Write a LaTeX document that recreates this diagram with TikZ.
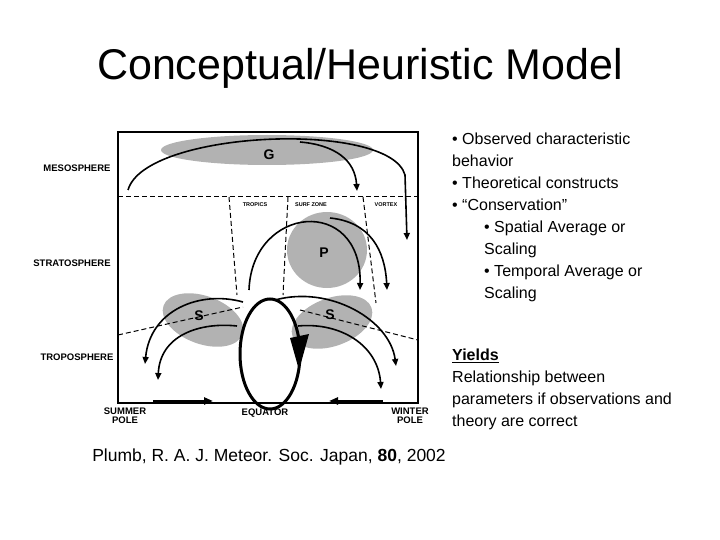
\documentclass[tikz,border=0pt]{standalone}
\usepackage{fontspec}
\setmainfont{Liberation Sans}
\usetikzlibrary{arrows.meta}
\begin{document}
\begin{tikzpicture}[x=1pt,y=-1pt,
  blob/.style={fill=black!30,draw=none},
  arr/.style={line width=1.6pt,-{Triangle[length=7pt,width=6pt]}},
  dline/.style={line width=1pt,dash pattern=on 5pt off 3pt},
  lab/.style={font=\fontsize{9.5}{9}\selectfont\bfseries,align=center,inner sep=0pt},
  tiny/.style={font=\fontsize{5.5}{6}\selectfont\bfseries,inner sep=0pt},
  body/.style={font=\fontsize{16}{22}\selectfont,anchor=north west,align=left,inner sep=0pt}]
\useasboundingbox (0,0) rectangle (720,540);
\node (title) at (360,68) {\fontsize{43}{45}\selectfont Conceptual/Heuristic Model};
% blobs
\fill[blob] (267,150) ellipse[x radius=106,y radius=15];
\fill[blob] (327,250) ellipse[x radius=40,y radius=38];
\fill[blob,rotate around={-20:(203,320)}] (203,320) ellipse[x radius=42,y radius=24];
\fill[blob,rotate around={20:(332,322)}] (332,322) ellipse[x radius=42,y radius=24];
\node (G) at (269,155) {\fontsize{14}{14}\selectfont\bfseries G};
\node (P) at (324,253) {\fontsize{14}{14}\selectfont\bfseries P};
\node (S1) at (199,316) {\fontsize{14}{14}\selectfont\bfseries S};
\node (S2) at (330,315) {\fontsize{14}{14}\selectfont\bfseries S};
% box
\draw[line width=1.3pt] (118,132) rectangle (418,403);
% dashed lines
\draw[dline] (118,197) -- (418,197);
\draw[dline] (118,335) -- (243,307);
\draw[dline] (300,310) -- (418,340);
\draw[dline] (229,197) -- (237,295);
\draw[dline] (288,197) -- (283,295);
\draw[dline] (363,197) -- (376,303);
\node[tiny] (tr) at (255,205) {TROPICS};
\node[tiny] (sz) at (311,205) {SURF ZONE};
\node[tiny] (vo) at (386,205) {VORTEX};
% G arrows
\coordinate (g0) at (128,190); \coordinate (g1) at (407,240); \coordinate (g2) at (357,191);
\draw[arr] (g0) .. controls (145,130) and (390,120) .. (405,175) -- (g1);
\draw[arr] (300,142) .. controls (335,145) and (355,160) .. (g2);
% P arrows
\coordinate (p0) at (249,290); \coordinate (p1) at (360,290); \coordinate (p2) at (387,290);
\draw[arr] (p0) .. controls (252,205) and (362,195) .. (p1);
\draw[arr] (330,218) .. controls (370,222) and (385,250) .. (p2);
% S arrows
\coordinate (s0) at (243,302); \coordinate (s1) at (145,364);
\draw[arr] (s0) .. controls (200,290) and (150,310) .. (s1);
\coordinate (s2) at (237,326); \coordinate (s3) at (158,380);
\draw[arr] (s2) .. controls (200,322) and (160,335) .. (s3);
\coordinate (s4) at (275,300); \coordinate (s5) at (396,366);
\draw[arr] (s4) .. controls (330,285) and (390,320) .. (s5);
\coordinate (s6) at (298,326); \coordinate (s7) at (381,389);
\draw[arr] (s6) .. controls (340,322) and (378,345) .. (s7);
% thick loop
\draw[line width=3pt] (270,354) ellipse[x radius=30,y radius=55];
\fill (290,338) -- (309,334) -- (299,370) -- cycle;
% bottom arrows
\coordinate (b0) at (153,401); \coordinate (b1) at (213,401);
\coordinate (b2) at (383,401); \coordinate (b3) at (329,401);
\draw[line width=3pt,-{Triangle[length=9pt,width=7pt]}] (b0) -- (b1);
\draw[line width=3pt,-{Triangle[length=9pt,width=7pt]}] (b2) -- (b3);
% labels
\node[lab] (meso) at (77,168) {MESOSPHERE};
\node[lab] (strat) at (72,263) {STRATOSPHERE};
\node[lab] (trop) at (77,357) {TROPOSPHERE};
\node[lab] (sp) at (125,416) {SUMMER\\POLE};
\node[lab] (eq) at (265,413) {EQUATOR};
\node[lab] (wp) at (410,416) {WINTER\\POLE};
% right text
\node[body] (t1) at (452,133) {• Observed characteristic\\behavior\\• Theoretical constructs\\• “Conservation”};
\node[body] (t2) at (484,221) {• Spatial Average or\\Scaling\\• Temporal Average or\\Scaling};
\node[body] (t3) at (452,349) {\textbf{\underline{Yields}}\\Relationship between\\parameters if observations and\\theory are correct};
\node[font=\fontsize{17.5}{20}\selectfont,inner sep=0pt] (cite) at (269,457) {Plumb, R. A. J. Meteor. Soc. Japan, \textbf{80}, 2002};
\end{tikzpicture}
\end{document}
